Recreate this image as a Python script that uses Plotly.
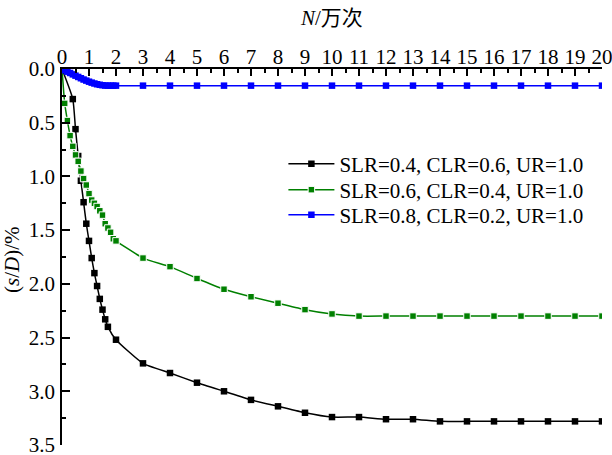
import plotly.graph_objects as go

# ---- data ----
black_x = [0, 0.4, 0.5, 0.6, 0.7, 0.8, 0.9, 1.0, 1.1, 1.2, 1.3, 1.4, 1.5, 1.6, 1.7,
           2, 3, 4, 5, 6, 7, 8, 9, 10, 11, 12, 13, 14, 15, 16, 17, 18, 19, 20]
black_y = [0, 0.28, 0.56, 0.81, 1.04, 1.24, 1.44, 1.60, 1.76, 1.90, 2.02, 2.14, 2.24, 2.33, 2.40,
           2.52, 2.74, 2.83, 2.92, 3.00, 3.08, 3.14, 3.20, 3.24, 3.24, 3.26, 3.26, 3.28, 3.28,
           3.28, 3.28, 3.28, 3.28, 3.28]

green_x = [0, 0.1, 0.2, 0.3, 0.4, 0.5, 0.6, 0.7, 0.8, 0.9, 1.0, 1.1, 1.2, 1.3, 1.4, 1.5, 1.6,
           1.7, 1.8, 1.9, 2.0, 3, 4, 5, 6, 7, 8, 9, 10, 11, 12, 13, 14, 15, 16, 17, 18, 19, 20]
green_y = [0, 0.32, 0.48, 0.62, 0.72, 0.80, 0.86, 0.95, 1.02, 1.08, 1.16, 1.22, 1.25, 1.28,
           1.32, 1.36, 1.44, 1.48, 1.52, 1.58, 1.60, 1.76, 1.84, 1.95, 2.05, 2.12, 2.18, 2.24,
           2.28, 2.30, 2.30, 2.30, 2.30, 2.30, 2.30, 2.30, 2.30, 2.30, 2.30]

blue_x = [0, 0.1, 0.2, 0.3, 0.4, 0.5, 0.6, 0.7, 0.8, 0.9, 1.0, 1.1, 1.2, 1.3, 1.4, 1.5, 1.6,
          1.7, 1.8, 1.9, 2.0, 3, 4, 5, 6, 7, 8, 9, 10, 11, 12, 13, 14, 15, 16, 17, 18, 19, 20]
blue_y = [0, 0.012, 0.025, 0.037, 0.05, 0.062, 0.074, 0.086, 0.098, 0.108, 0.118, 0.127,
          0.135, 0.142, 0.147, 0.151, 0.154, 0.155, 0.155, 0.155, 0.155, 0.155, 0.155, 0.155,
          0.155, 0.155, 0.155, 0.155, 0.155, 0.155, 0.155, 0.155, 0.155, 0.155, 0.155, 0.155,
          0.155, 0.155, 0.155]

names = ["SLR=0.4, CLR=0.6, UR=1.0", "SLR=0.6, CLR=0.4, UR=1.0", "SLR=0.8, CLR=0.2, UR=1.0"]
x_ticks = list(range(0, 21))
y_ticks = [0.0, 0.5, 1.0, 1.5, 2.0, 2.5, 3.0, 3.5]

FONT = "Liberation Serif"
FS = 21

fig = go.Figure()
fig.add_trace(go.Scatter(x=black_x, y=black_y, name=names[0], mode="lines+markers",
                         legend="legend",
                         line=dict(color="black", width=1.5, shape="spline", smoothing=0.5),
                         marker=dict(symbol="square", size=6.5, color="black")))
fig.add_trace(go.Scatter(x=green_x, y=green_y, name=names[1], mode="lines+markers",
                         legend="legend2",
                         line=dict(color="#008000", width=1.5, shape="spline", smoothing=0.5),
                         marker=dict(symbol="square", size=6.5, color="#008000",
                                     line=dict(color="white", width=1))))
fig.add_trace(go.Scatter(x=blue_x, y=blue_y, name=names[2], mode="lines+markers",
                         legend="legend3",
                         line=dict(color="#0000FF", width=1.5),
                         marker=dict(symbol="square", size=6.5, color="#0000FF")))


def leg(ypix):
    return dict(x=0.410, y=(445 - ypix) / 376, xanchor="left", yanchor="middle",
                bgcolor="rgba(0,0,0,0)", font=dict(size=FS, family=FONT), itemwidth=46)


fig.update_layout(
    width=612, height=455,
    margin=dict(l=62, r=10, t=69, b=10),
    paper_bgcolor="white", plot_bgcolor="white",
    font=dict(family=FONT, size=FS, color="black"),
    showlegend=True,
    legend=leg(164), legend2=leg(190), legend3=leg(215),
    xaxis=dict(range=[0, 20], side="top", tickvals=x_ticks, ticks="inside", ticklen=7,
               tickwidth=1.5, tickcolor="black",
               minor=dict(dtick=0.5, ticks="inside", ticklen=4, tickwidth=1.5, tickcolor="black"),
               showline=True, linewidth=1.5, linecolor="black", showgrid=False, zeroline=False,
               tickfont=dict(size=FS, family=FONT), ticklabelstandoff=-5,
               ticklabeloverflow="allow", automargin=False),
    yaxis=dict(range=[3.5, 0], tickvals=y_ticks, tickformat=".1f", ticks="inside", ticklen=8,
               tickwidth=1.5, tickcolor="black",
               minor=dict(dtick=0.25, ticks="inside", ticklen=4, tickwidth=1.5, tickcolor="black"),
               showline=True, linewidth=1.5, linecolor="black", showgrid=False, zeroline=False,
               tickfont=dict(size=FS, family=FONT), ticklabelstandoff=1,
               ticklabeloverflow="allow", automargin=False),
    annotations=[
        dict(text="<i>N</i>/万次", xref="paper", yref="paper", x=(331 - 62) / 540,
             y=(445 - 18) / 376, xanchor="center", yanchor="middle", showarrow=False,
             font=dict(size=FS, family="Liberation Serif, Noto Sans CJK SC")),
        dict(text="(<i>s</i>/<i>D</i>)/%", xref="paper", yref="paper", x=(12 - 62) / 540,
             y=(445 - 260) / 376, xanchor="center", yanchor="middle", showarrow=False,
             textangle=-90, font=dict(size=FS, family=FONT)),
    ],
)

fig.write_html("out.html")
